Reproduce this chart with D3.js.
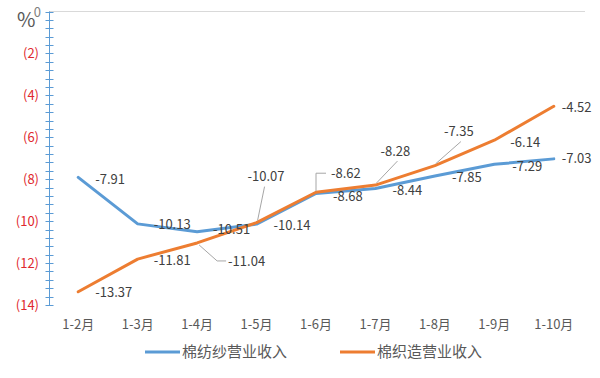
<!DOCTYPE html>
<html>
<head>
<meta charset="utf-8">
<script src="https://cdn.jsdelivr.net/npm/d3@7"></script>
<style>
  body { margin: 0; background: #fff; }
  svg text { font-family: "Noto Sans CJK SC", "Noto Sans", sans-serif; }
</style>
</head>
<body>
<div id="chart"></div>
<script>
// Data
const months = ["1-2月", "1-3月", "1-4月", "1-5月", "1-6月", "1-7月", "1-8月", "1-9月", "1-10月"];
const spinning = [-7.91, -10.13, -10.51, -10.14, -8.68, -8.44, -7.85, -7.29, -7.03];
const weaving = [-13.37, -11.81, -11.04, -10.07, -8.62, -8.28, -7.35, -6.14, -4.52];
const seriesNames = ["棉纺纱营业收入", "棉织造营业收入"];
const yTicks = [0, -2, -4, -6, -8, -10, -12, -14];

// label placement (offset of label's left edge / middle from the point), leader flag
const spinLabelPos = [[17, 2], [16, 1], [16, -2], [17, 1], [17, 3], [17, 2], [17, 1], [18, 2], [8, 0]];
const weaveLabelPos = [[17, 1], [16, 1], [31, 19], [-9, -46], [15, -19], [5, -34], [9, -34], [16, 2], [8, 1]];
const weaveLeaders = [null, null, "diag", "up", "elbow", "up", "up", null, null];

const width = 600;
const height = 378;

const svg = d3.select("#chart")
    .append("svg")
    .attr("width", width)
    .attr("height", height);

const x = d3.scaleBand()
    .domain(months)
    .range([48.5, 583.5]);

const y = d3.scaleLinear()
    .domain([0, -14])
    .range([11.5, 305]);

const px = d => x(d) + x.bandwidth() / 2;

// top gridline
svg.append("line")
    .attr("x1", 49).attr("x2", 585)
    .attr("y1", y(0)).attr("y2", y(0))
    .attr("stroke", "#d9d9d9")
    .attr("stroke-width", 1);

// y axis with minor ticks
const axisColor = "#5b9bd5";
const minor = d3.range(0, -14.01, -0.4);
svg.append("line")
    .attr("x1", 49.5).attr("x2", 49.5)
    .attr("y1", y(0)).attr("y2", y(-14))
    .attr("stroke", axisColor)
    .attr("stroke-width", 1);

svg.selectAll(".ytick")
    .data(minor)
    .join("line")
    .attr("class", "ytick")
    .attr("x1", 45.5).attr("x2", 53.5)
    .attr("y1", d => Math.round(y(d)) + 0.5)
    .attr("y2", d => Math.round(y(d)) + 0.5)
    .attr("stroke", axisColor)
    .attr("stroke-width", 1);

svg.selectAll(".ylabel")
    .data(yTicks)
    .join("text")
    .attr("class", "ylabel")
    .attr("x", d => d === 0 ? 41 : 39)
    .attr("y", d => d === 0 ? y(d) + 1 : y(d))
    .attr("dy", "0.35em")
    .attr("text-anchor", "end")
    .style("font-size", "13px")
    .style("fill", d => d === 0 ? "#7f7f7f" : "#e0282e")
    .text(d => d === 0 ? "0" : `(${-d})`);

svg.append("text")
    .attr("x", 17)
    .attr("y", 27)
    .style("font-size", "20px")
    .style("fill", "#595959")
    .text("%");

// x labels
svg.selectAll(".xlabel")
    .data(months)
    .join("text")
    .attr("class", "xlabel")
    .attr("x", d => px(d))
    .attr("y", 324)
    .attr("dy", "0.35em")
    .attr("text-anchor", "middle")
    .style("font-size", "13px")
    .style("fill", "#595959")
    .text(d => d);

// lines
const colors = ["#5b9bd5", "#ed7d31"];
const line = d3.line()
    .x((d, i) => px(months[i]))
    .y(d => y(d));

[spinning, weaving].forEach((vals, k) => {
    svg.append("path")
        .datum(vals)
        .attr("d", line)
        .attr("fill", "none")
        .attr("stroke", colors[k])
        .attr("stroke-width", 3)
        .attr("stroke-linejoin", "round")
        .attr("stroke-linecap", "round");
});

// leader lines for the moved orange labels
const leaderColor = "#a6a6a6";
weaving.forEach((v, i) => {
    const kind = weaveLeaders[i];
    if (!kind) return;
    const x0 = px(months[i]);
    const y0 = y(v);
    const lx = x0 + weaveLabelPos[i][0];
    const ly = y0 + weaveLabelPos[i][1];
    let pts;
    if (kind === "diag") pts = [[x0 + 2, y0 + 2], [lx - 11, ly - 1], [lx - 2, ly - 1]];
    else if (kind === "elbow") pts = [[x0, y0 - 1], [x0, ly], [lx - 5, ly]];
    else pts = [[x0 + 1, y0 - 2], [lx + 17, ly + 10]];
    svg.append("path")
        .attr("d", d3.line()(pts))
        .attr("fill", "none")
        .attr("stroke", leaderColor)
        .attr("stroke-width", 1);
});

// data labels
function drawLabels(vals, pos) {
    svg.append("g")
        .selectAll("text")
        .data(vals)
        .join("text")
        .attr("x", (d, i) => px(months[i]) + pos[i][0])
        .attr("y", (d, i) => y(d) + pos[i][1])
        .attr("dy", "0.35em")
        .style("font-size", "13px")
        .style("fill", "#404040")
        .text(d => d.toFixed(2));
}
drawLabels(spinning, spinLabelPos);
drawLabels(weaving, weaveLabelPos);

// legend
const legendX = [145, 340];
const legend = svg.append("g");
seriesNames.forEach((name, k) => {
    legend.append("line")
        .attr("x1", legendX[k]).attr("x2", legendX[k] + 35)
        .attr("y1", 352).attr("y2", 352)
        .attr("stroke", colors[k])
        .attr("stroke-width", 3);
    legend.append("text")
        .attr("x", legendX[k] + 37)
        .attr("y", 352)
        .attr("dy", "0.35em")
        .style("font-size", "15px")
        .style("fill", "#595959")
        .text(name);
});
</script>
</body>
</html>
